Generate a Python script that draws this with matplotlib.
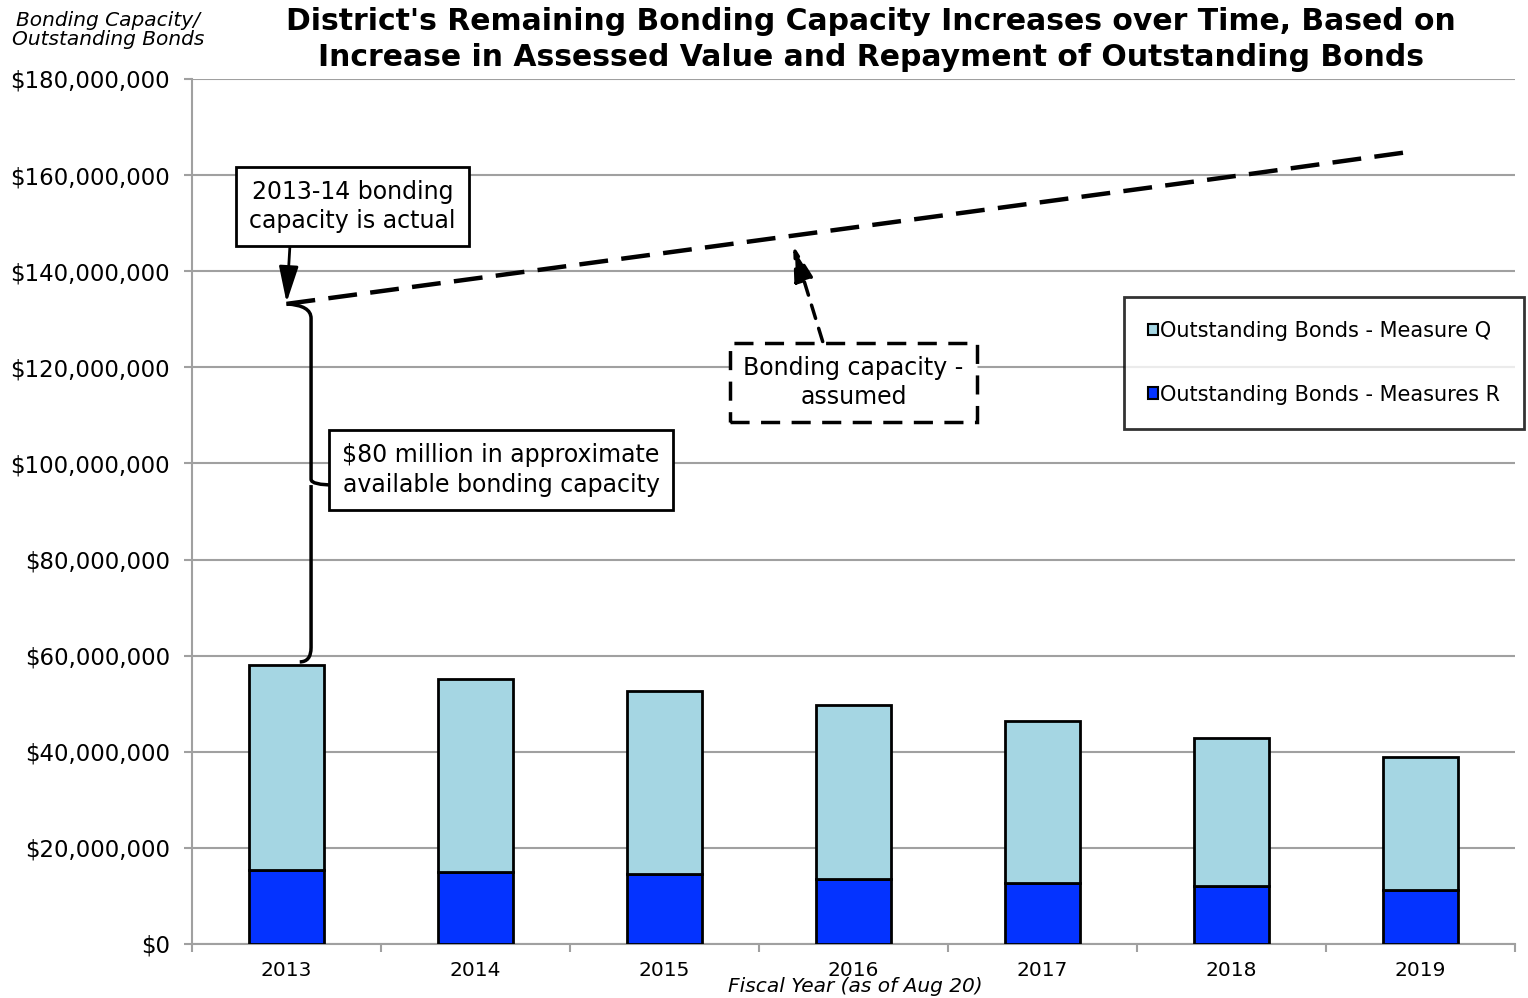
import numpy as np
import matplotlib.pyplot as plt
from matplotlib.path import Path
from matplotlib.patches import PathPatch
from matplotlib.ticker import FuncFormatter

years = ["2013", "2014", "2015", "2016", "2017", "2018", "2019"]
measures_r = [15.4e6, 15.0e6, 14.6e6, 13.5e6, 12.7e6, 12.1e6, 11.2e6]
bonds_total = [58.1e6, 55.1e6, 52.6e6, 49.7e6, 46.4e6, 42.9e6, 38.9e6]
measure_q = [t - r for t, r in zip(bonds_total, measures_r)]
capacity = [133.2e6, 138.5e6, 143.8e6, 149.1e6, 154.4e6, 159.7e6, 165.0e6]

light_blue = "#A5D6E3"
dark_blue = "#0433FF"
grid_grey = "#A0A0A0"

plt.rcParams['font.family'] = ['DejaVu Sans']

fig = plt.figure(figsize=(15.28, 9.98), dpi=100)
ax = fig.add_axes([192/1528, 1-944/998, (1515-192)/1528, (944-79)/998])

x = np.arange(len(years))
w = 0.40
ax.bar(x, measures_r, w, color=dark_blue, edgecolor="black", linewidth=2,
       label="Outstanding Bonds - Measures R", zorder=3)
ax.bar(x, measure_q, w, bottom=measures_r, color=light_blue, edgecolor="black",
       linewidth=2, label="Outstanding Bonds - Measure Q", zorder=3)

# capacity line (ends a little short of the last bar centre, as in the source)
xl = x.astype(float)
xl[-1] = xl[-1] - 0.03
ax.plot(xl, capacity, color="black", linestyle=(0, (6.5, 3)), linewidth=3.2, zorder=4)

ax.set_xlim(-0.5, 6.5)
ax.set_ylim(0, 180e6)
ax.set_yticks(np.arange(0, 180e6 + 1, 20e6))
ax.yaxis.set_major_formatter(FuncFormatter(lambda v, p: "${:,.0f}".format(v)))
ax.set_xticks(x)
ax.set_xticklabels(years)
ax.set_xticks(np.arange(-0.5, 6.6, 1), minor=True)
ax.tick_params(axis="x", which="major", length=0, labelsize=14.5, pad=12)
ax.tick_params(axis="x", which="minor", length=6, width=1.5, color=grid_grey)
ax.tick_params(axis="y", length=6, width=1.5, color=grid_grey, labelsize=16.5, pad=10)
ax.grid(axis="y", color=grid_grey, linewidth=1.5, zorder=0)
ax.set_axisbelow(True)
for s in ["top", "right"]:
    ax.spines[s].set_visible(False)
for s in ["left", "bottom"]:
    ax.spines[s].set_color(grid_grey)
    ax.spines[s].set_linewidth(1.5)

# brace between bar top and capacity point
top = capacity[0]
bot = bonds_total[0] + 0.6e6
mid = 95.5e6
bx = 0.13
verts = [(0.0, top), (bx, top - 0.3e6), (bx, top - 3e6),
         (bx, mid + 1.2e6),
         (bx, mid), (0.26, mid),
         (bx, mid), (bx, mid - 1.2e6),
         (bx, bot + 3e6),
         (bx, bot), (0.07, bot)]
codes = [Path.MOVETO, Path.CURVE3, Path.CURVE3,
         Path.LINETO,
         Path.CURVE3, Path.CURVE3,
         Path.MOVETO, Path.LINETO,
         Path.LINETO,
         Path.CURVE3, Path.CURVE3]
ax.add_patch(PathPatch(Path(verts, codes), facecolor="none", edgecolor="black",
                       linewidth=2.5, zorder=5))

box = dict(boxstyle="square,pad=0.55", facecolor="white", edgecolor="black", linewidth=2)
ax.annotate("2013-14 bonding\ncapacity is actual", xy=(0.0, top), xytext=(0.35, 153.5e6),
            ha="center", va="center", fontsize=17, bbox=box, zorder=6, linespacing=1.25,
            arrowprops=dict(arrowstyle="-|>,head_length=1.3,head_width=0.35", color="black",
                            lw=2, shrinkA=0, shrinkB=1, relpos=(0.2, 0)))
ax.text(1.135, 98.6e6, "$80 million in approximate\navailable bonding capacity",
        ha="center", va="center", fontsize=17, bbox=box, zorder=6, linespacing=1.35)
dbox = dict(boxstyle="square,pad=0.55", facecolor="white", edgecolor="black",
            linewidth=2.5, linestyle=(0, (5.5, 3.3)))
ax.annotate("Bonding capacity -\nassumed", xy=(2.68, 145.5e6), xytext=(3.0, 116.9e6),
            ha="center", va="center", fontsize=17, bbox=dbox, zorder=6, linespacing=1.25,
            arrowprops=dict(arrowstyle="-|>,head_length=1.3,head_width=0.35", color="black",
                            lw=2.5, linestyle=(0, (4, 3)), shrinkA=0, shrinkB=0,
                            relpos=(0.38, 1)))

handles, labels = ax.get_legend_handles_labels()
leg = fig.legend(handles[::-1], labels[::-1], loc="upper left",
                 bbox_to_anchor=(1124/1528, 1-297/998), fontsize=15, frameon=True,
                 fancybox=False, edgecolor="black", handlelength=0.5, handleheight=0.5,
                 handletextpad=0.1, labelspacing=2.1, borderpad=1.15, borderaxespad=0)
leg.get_frame().set_linewidth(2)
for h in leg.legend_handles:
    h.set_linewidth(1.5)

fig.text(0.5 + 0.07, 1-22/998, "District's Remaining Bonding Capacity Increases over Time, Based on",
         ha="center", va="center", fontsize=21.5, fontweight="heavy")
fig.text(0.5 + 0.07, 1-58/998, "Increase in Assessed Value and Repayment of Outstanding Bonds",
         ha="center", va="center", fontsize=21.5, fontweight="heavy")
fig.text(108/1528, 1-30/998, "Bonding Capacity/\nOutstanding Bonds", ha="center", va="center",
         fontsize=14.5, fontstyle="italic", linespacing=1.05)
fig.text(855/1528, 1-987/998, "Fiscal Year (as of Aug 20)", ha="center", va="center",
         fontsize=14.5, fontstyle="italic")

fig.savefig("out.png", dpi=100)
